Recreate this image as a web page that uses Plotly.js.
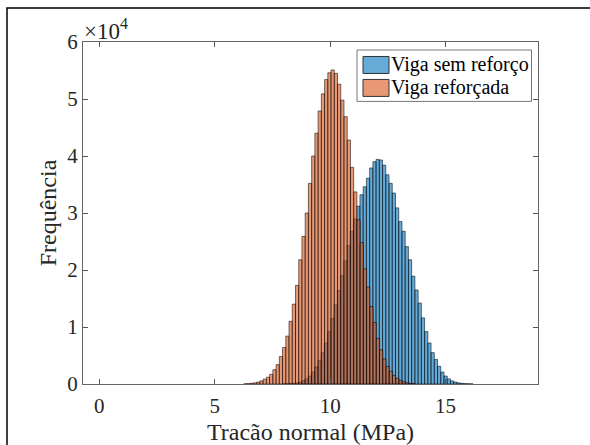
<!DOCTYPE html>
<html>
<head>
<meta charset="utf-8">
<script src="https://cdn.plot.ly/plotly-3.0.1.min.js"></script>
<style>
  html, body { margin: 0; padding: 0; background: #fff; }
  #chart { width: 590px; height: 445px; }
</style>
</head>
<body>
<div id="chart"></div>
<script>
// ---- Data (bin centres in MPa, counts) ----
const seriesNames = ["Viga sem reforço", "Viga reforçada"];
const binWidth = 0.14;

const semReforcoX = [8.00, 8.14, 8.28, 8.42, 8.56, 8.70, 8.84, 8.98, 9.12, 9.26,
  9.40, 9.54, 9.68, 9.82, 9.96, 10.10, 10.24, 10.38, 10.52, 10.66,
  10.80, 10.94, 11.08, 11.22, 11.36, 11.50, 11.64, 11.78, 11.92, 12.06,
  12.20, 12.34, 12.48, 12.62, 12.76, 12.90, 13.04, 13.18, 13.32, 13.46,
  13.60, 13.74, 13.88, 14.02, 14.16, 14.30, 14.44, 14.58, 14.72, 14.86,
  15.00, 15.14, 15.28, 15.42, 15.56, 15.70, 15.84, 15.98, 16.12];
const semReforcoY = [20, 40, 70, 120, 200, 350, 600, 900, 1400, 2100,
  3000, 4100, 5500, 7200, 9200, 11500, 13900, 16400, 19000, 21600,
  24300, 26800, 29000, 31200, 33200, 34600, 36100, 37900, 39000, 39400,
  39300, 38400, 36700, 35200, 33500, 30900, 28500, 26800, 24100, 21800,
  18900, 16500, 14200, 11600, 9200, 7200, 5500, 4300, 3100, 2100,
  1400, 900, 550, 350, 200, 120, 70, 40, 20];

const reforcadaX = [6.33, 6.47, 6.61, 6.75, 6.89, 7.03, 7.17, 7.31, 7.45, 7.59,
  7.73, 7.87, 8.01, 8.15, 8.29, 8.43, 8.57, 8.71, 8.85, 8.99,
  9.13, 9.27, 9.41, 9.55, 9.69, 9.83, 9.97, 10.11, 10.25, 10.39,
  10.53, 10.67, 10.81, 10.95, 11.09, 11.23, 11.37, 11.51, 11.65, 11.79,
  11.93, 12.07, 12.21, 12.35, 12.49, 12.63, 12.77, 12.91, 13.05, 13.19,
  13.33, 13.47, 13.61];
const reforcadaY = [30, 60, 120, 200, 350, 550, 850, 1200, 1700, 2500,
  3400, 4800, 6400, 8400, 11000, 14000, 17300, 21800, 25900, 30000,
  35200, 40000, 44000, 47900, 50900, 53400, 54600, 55100, 54500, 52600,
  49800, 46900, 42800, 38000, 33700, 28800, 24800, 20200, 17000, 13600,
  10800, 8000, 6000, 4400, 3100, 2200, 1500, 1000, 650, 400,
  220, 120, 60];

const xTickVals = [0, 5, 10, 15];
const yTickVals = [0, 10000, 20000, 30000, 40000, 50000, 60000];
const yTickText = ["0", "1", "2", "3", "4", "5", "6"];

// ---- Styling ----
const FONT = "Liberation Serif, Times New Roman, serif";
const BLUE = "rgba(0,114,189,0.6)";
const ORANGE = "rgba(217,83,25,0.6)";
const BLUE_SOLID = "rgb(102,170,215)";
const ORANGE_SOLID = "rgb(232,152,117)";

const traces = [
  {
    type: "bar", name: seriesNames[0], x: semReforcoX, y: semReforcoY,
    width: binWidth, showlegend: false,
    marker: { color: BLUE, line: { color: "rgba(0,0,0,0.9)", width: 0.6 } },
    hoverinfo: "x+y"
  },
  {
    type: "bar", name: seriesNames[1], x: reforcadaX, y: reforcadaY,
    width: binWidth, showlegend: false,
    marker: { color: ORANGE, line: { color: "rgba(0,0,0,0.9)", width: 0.6 } },
    hoverinfo: "x+y"
  }
];

// pixel helpers for paper-positioned decorations (plot area 83..538 x 42..384.5)
const L = 83, R = 538, T = 42, B = 384.5;
const px = v => (v - L) / (R - L);
const py = v => (B - v) / (B - T);

const layout = {
  width: 590, height: 445,
  margin: { l: L, r: 590 - R, t: T, b: 445 - B, pad: 0 },
  paper_bgcolor: "#fff", plot_bgcolor: "#fff",
  barmode: "overlay",
  bargap: 0,
  font: { family: FONT, color: "#262626", size: 21 },
  xaxis: {
    range: [-0.7, 19.0],
    tickvals: xTickVals,
    ticks: "inside", ticklen: 5, tickwidth: 1, tickcolor: "#555",
    showline: true, linecolor: "#666", linewidth: 1, mirror: "ticks",
    showgrid: false, zeroline: false,
    ticklabelstandoff: 3,
    tickfont: { family: FONT, size: 21, color: "#262626" },
    title: { text: "Tracão normal (MPa)", font: { family: FONT, size: 24, color: "#262626" }, standoff: 8 }
  },
  yaxis: {
    range: [0, 60000],
    tickvals: yTickVals, ticktext: yTickText,
    ticks: "inside", ticklen: 5, tickwidth: 1, tickcolor: "#555",
    showline: true, linecolor: "#666", linewidth: 1, mirror: "ticks",
    showgrid: false, zeroline: false,
    tickfont: { family: FONT, size: 21, color: "#262626" },
    title: { text: "Frequência", font: { family: FONT, size: 24, color: "#262626" }, standoff: 3 }
  },
  shapes: [
    // outer figure frame (left + top visible in the crop)
    { type: "rect", xref: "paper", yref: "paper", x0: px(7), x1: px(700), y0: py(600), y1: py(8),
      line: { color: "#000", width: 1.5 }, fillcolor: "rgba(0,0,0,0)", layer: "above" },
    // legend box
    { type: "rect", xref: "paper", yref: "paper", x0: px(357), x1: px(531.5), y0: py(101.5), y1: py(50),
      line: { color: "#777", width: 1 }, fillcolor: "#fff", layer: "above" },
    { type: "rect", xref: "paper", yref: "paper", x0: px(363), x1: px(389), y0: py(73.5), y1: py(56.5),
      line: { color: "#333", width: 1 }, fillcolor: BLUE_SOLID, layer: "above" },
    { type: "rect", xref: "paper", yref: "paper", x0: px(363), x1: px(389), y0: py(96.5), y1: py(79.5),
      line: { color: "#333", width: 1 }, fillcolor: ORANGE_SOLID, layer: "above" }
  ],
  annotations: [
    { xref: "paper", yref: "paper", x: px(389), y: py(65), xanchor: "left", yanchor: "middle",
      text: seriesNames[0], showarrow: false, font: { family: FONT, size: 20, color: "#000" } },
    { xref: "paper", yref: "paper", x: px(389), y: py(88), xanchor: "left", yanchor: "middle",
      text: seriesNames[1], showarrow: false, font: { family: FONT, size: 20, color: "#000" } },
    { xref: "paper", yref: "paper", x: px(82), y: py(46), xanchor: "left", yanchor: "bottom",
      text: "×10<sup>4</sup>", showarrow: false, font: { family: FONT, size: 23, color: "#262626" } }
  ]
};

Plotly.newPlot("chart", traces, layout, { displayModeBar: false, staticPlot: true });
</script>
</body>
</html>
